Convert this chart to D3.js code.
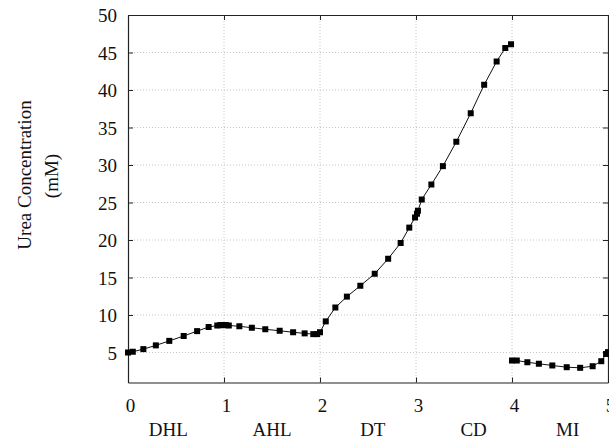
<!DOCTYPE html>
<html>
<head>
<meta charset="utf-8">
<script src="https://cdn.jsdelivr.net/npm/d3@7"></script>
<style>
  body { margin: 0; background: #fff; }
  svg text { font-family: "Liberation Serif", "Times New Roman", serif; fill: #111; }
</style>
</head>
<body>
<svg id="chart" width="609" height="445"></svg>
<script>
// Tick values and segment names
const xTicks = [0, 1, 2, 3, 4, 5];
const yTicks = [5, 10, 15, 20, 25, 30, 35, 40, 45, 50];
const segments = ['DHL', 'AHL', 'DT', 'CD', 'MI'];
const segmentPos = [0.42, 1.5, 2.55, 3.6, 4.58];

// First curve: DHL -> AHL -> DT -> CD (continuous)
const loopX = [0, 0.05, 0.16, 0.29, 0.43, 0.58, 0.72, 0.84, 0.93, 0.96, 0.99, 1.02, 1.05,
  1.16, 1.29, 1.43, 1.58, 1.72, 1.84, 1.93, 1.97, 2.0, 2.06, 2.16, 2.28, 2.42, 2.57,
  2.71, 2.84, 2.93, 2.99, 3.01, 3.02, 3.06, 3.16, 3.28, 3.42, 3.57, 3.71, 3.84, 3.93, 3.99];
const loopY = [5.0, 5.1, 5.45, 5.95, 6.55, 7.2, 7.85, 8.4, 8.6, 8.65, 8.65, 8.65, 8.6,
  8.5, 8.3, 8.1, 7.9, 7.7, 7.55, 7.45, 7.45, 7.7, 9.15, 11.0, 12.45, 13.9, 15.5,
  17.5, 19.6, 21.65, 23.0, 23.5, 23.9, 25.4, 27.4, 29.85, 33.1, 36.9, 40.7, 43.8, 45.6, 46.1];

// Second curve: MI
const miX = [4.0, 4.05, 4.16, 4.28, 4.42, 4.57, 4.71, 4.84, 4.93, 4.98, 5.0];
const miY = [3.93, 3.93, 3.7, 3.5, 3.27, 3.04, 2.96, 3.17, 3.84, 4.8, 5.05];

const svg = d3.select('#chart');
const plotL = 128, plotR = 608, plotT = 15, plotB = 382.5;

const x = d3.scaleLinear().domain([0, 5]).range([plotL, plotR]);
const y = d3.scaleLinear().domain([1, 50]).range([plotB, plotT]);

// grid lines
const grid = svg.append('g').attr('stroke', '#b8b8b8').attr('stroke-width', 0.8)
  .attr('stroke-dasharray', '1,2');
xTicks.slice(1, -1).forEach(t => {
  grid.append('line').attr('x1', x(t)).attr('x2', x(t)).attr('y1', plotT).attr('y2', plotB);
});
yTicks.slice(0, -1).forEach(t => {
  grid.append('line').attr('x1', plotL).attr('x2', plotR).attr('y1', y(t)).attr('y2', y(t));
});

// axes with inward ticks
const fontSize = 19;
const yAxis = svg.append('g').attr('transform', `translate(${plotL},0)`)
  .call(d3.axisLeft(y).tickValues(yTicks).tickFormat(d3.format('d'))
    .tickSizeInner(-5).tickSizeOuter(0).tickPadding(11));
const yAxisR = svg.append('g').attr('transform', `translate(${plotR},0)`)
  .call(d3.axisRight(y).tickValues(yTicks).tickSizeInner(-5).tickSizeOuter(0).tickFormat(''));
const xAxis = svg.append('g').attr('transform', `translate(0,${plotB})`)
  .call(d3.axisBottom(x).tickValues(xTicks).tickFormat(d3.format('d'))
    .tickSizeInner(-5).tickSizeOuter(0).tickPadding(16));
const xAxisT = svg.append('g').attr('transform', `translate(0,${plotT})`)
  .call(d3.axisTop(x).tickValues(xTicks).tickSizeInner(-5).tickSizeOuter(0).tickFormat(''));

[yAxis, yAxisR, xAxis, xAxisT].forEach(a => {
  a.selectAll('path').attr('stroke', '#222').attr('stroke-width', 1.2);
  a.selectAll('line').attr('stroke', '#222');
  a.selectAll('text').style('font-size', fontSize + 'px')
    .style('font-family', '"Liberation Serif", serif').attr('fill', '#111');
});
xAxis.selectAll('text').attr('dx', 2);
yAxis.selectAll('text').attr('dy', '0.35em');

// segment names under x axis
svg.append('g').selectAll('text').data(segments).join('text')
  .attr('x', (d, i) => x(segmentPos[i]))
  .attr('y', 436)
  .attr('text-anchor', 'middle')
  .style('font-size', fontSize + 'px')
  .text(d => d);

// y axis title
svg.append('text')
  .attr('transform', 'translate(31,175) rotate(-90)')
  .attr('text-anchor', 'middle')
  .style('font-size', fontSize + 'px')
  .text('Urea Concentration');
svg.append('text')
  .attr('transform', 'translate(58,176) rotate(-90)')
  .attr('text-anchor', 'middle')
  .style('font-size', fontSize + 'px')
  .text('(mM)');

// curves and markers
const line = d3.line().x(d => x(d[0])).y(d => y(d[1]));
const series = [d3.zip(loopX, loopY), d3.zip(miX, miY)];
series.forEach(pts => {
  svg.append('path').datum(pts)
    .attr('d', line)
    .attr('fill', 'none')
    .attr('stroke', '#111')
    .attr('stroke-width', 1);
  svg.append('g').selectAll('rect').data(pts).join('rect')
    .attr('x', d => x(d[0]) - 3)
    .attr('y', d => y(d[1]) - 3)
    .attr('width', 6)
    .attr('height', 6)
    .attr('fill', '#000');
});
</script>
</body>
</html>
